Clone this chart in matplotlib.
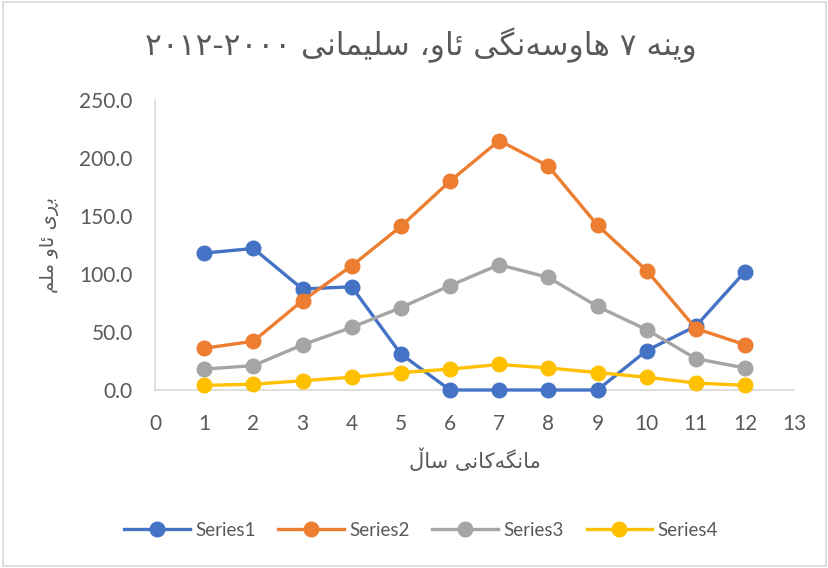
import re

import matplotlib
matplotlib.use("Agg")
import matplotlib.pyplot as plt
from matplotlib.patches import Rectangle


# --- Data ---

months = [1, 2, 3, 4, 5, 6, 7, 8, 9, 10, 11, 12]
series1 = [118, 122, 87, 89, 31, 0, 0, 0, 0, 34, 55, 102]
series2 = [36, 42, 77, 107, 141, 180, 215, 193, 142, 103, 53, 39]
series3 = [18, 21, 39, 54, 71, 90, 108, 97, 72, 52, 27, 19]
series4 = [4, 5, 8, 11, 15, 18, 22, 19, 15, 11, 6, 4]
series_names = ["Series1", "Series2", "Series3", "Series4"]
colors = ["#4472C4", "#ED7D31", "#A5A5A5", "#FFC000"]

title = "وێنە ٧ هاوسەنگی ئاو، سلێمانی ٢٠٠٠-٢٠١٢"
xlabel = "مانگەکانی ساڵ"
ylabel = "بڕی ئاو ملم"


# --- Arabic shaping (matplotlib draws glyphs left to right, no joining) ---

# isolated, final[, initial, medial]
FORMS = {
    "ا": "\uFE8D\uFE8E",
    "و": "\uFEED\uFEEE",
    "ڕ": "\u0695\u0695",
    "ە": "\u06D5\uFEEA",
    "ڵ": "\u06B5\u06B5",
    "ب": "\uFE8F\uFE90\uFE91\uFE92",
    "ئ": "\uFE89\uFE8A\uFE8B\uFE8C",
    "س": "\uFEB1\uFEB2\uFEB3\uFEB4",
    "ل": "\uFEDD\uFEDE\uFEDF\uFEE0",
    "م": "\uFEE1\uFEE2\uFEE3\uFEE4",
    "ن": "\uFEE5\uFEE6\uFEE7\uFEE8",
    "ه": "\uFEE9\uFEEA\uFEEB\uFEEC",
    "ک": "\uFB8E\uFB8F\uFB90\uFB91",
    "گ": "\uFB92\uFB93\uFB94\uFB95",
    "ی": "\uFBFC\uFBFD\uFBFE\uFBFF",
    "ێ": "\u06CE\uFEF2\uFEF3\uFEF4",
}


def shape(text):
    out = []
    for i, c in enumerate(text):
        if c not in FORMS:
            out.append(c)
            continue
        prev = text[i - 1] if i > 0 else ""
        nxt = text[i + 1] if i + 1 < len(text) else ""
        join_prev = prev in FORMS and len(FORMS[prev]) == 4
        join_next = nxt in FORMS and len(FORMS[c]) == 4
        idx = [[0, 2], [1, 3]][join_prev][join_next]
        out.append(FORMS[c][idx])
    # visual order: right to left, digit runs stay left to right
    tokens = re.findall(r"[\u0660-\u0669]+|.", "".join(out))
    return "".join(reversed(tokens))


# --- Plot ---

plt.rcParams["font.family"] = ["Lato", "DejaVu Sans"]
AR_FONT = ["DejaVu Sans"]
TEXT_GREY = "#595959"

fig = plt.figure(figsize=(8.29, 5.68), dpi=100)
ax = fig.add_axes([0.187, 0.3134, 0.771, 0.5106])

for vals, name, col in zip([series1, series2, series3, series4], series_names, colors):
    ax.plot(months, vals, color=col, linewidth=2.4, marker="o", markersize=10.5,
            label=name, clip_on=False, zorder=3)

ax.set_xlim(0, 13)
ax.set_ylim(0, 250)
ax.set_xticks(range(0, 14))
ax.set_yticks(range(0, 251, 50))
ax.set_yticklabels([f"{v:.1f}" for v in range(0, 251, 50)])
ax.tick_params(length=0, labelsize=15, colors=TEXT_GREY)
ax.tick_params(axis="y", pad=16)
ax.tick_params(axis="x", pad=17)

for side in ["top", "right"]:
    ax.spines[side].set_visible(False)
for side in ["left", "bottom"]:
    ax.spines[side].set_color("#D9D9D9")
    ax.spines[side].set_linewidth(1.2)

fig.text(0.508, 0.921, shape(title), ha="center", va="center", fontsize=22.5,
         color=TEXT_GREY, family=AR_FONT)
fig.text(0.573, 0.19, shape(xlabel), ha="center", va="center", fontsize=15,
         color=TEXT_GREY, family=AR_FONT)
fig.text(0.06, 0.569, shape(ylabel), ha="center", va="center", fontsize=14,
         color=TEXT_GREY, family=AR_FONT, rotation=90)

leg = fig.legend(loc="center", bbox_to_anchor=(0.508, 0.066), ncol=4, frameon=False,
                 fontsize=13.5, handlelength=3.5, columnspacing=1.2, handletextpad=0.3)
for t in leg.get_texts():
    t.set_color(TEXT_GREY)

# chart area border
fig.patches.append(Rectangle((0.004, 0.003), 0.992, 0.994, transform=fig.transFigure,
                             fill=False, edgecolor="#D9D9D9", linewidth=1.2))

fig.savefig("out.png", dpi=100)
